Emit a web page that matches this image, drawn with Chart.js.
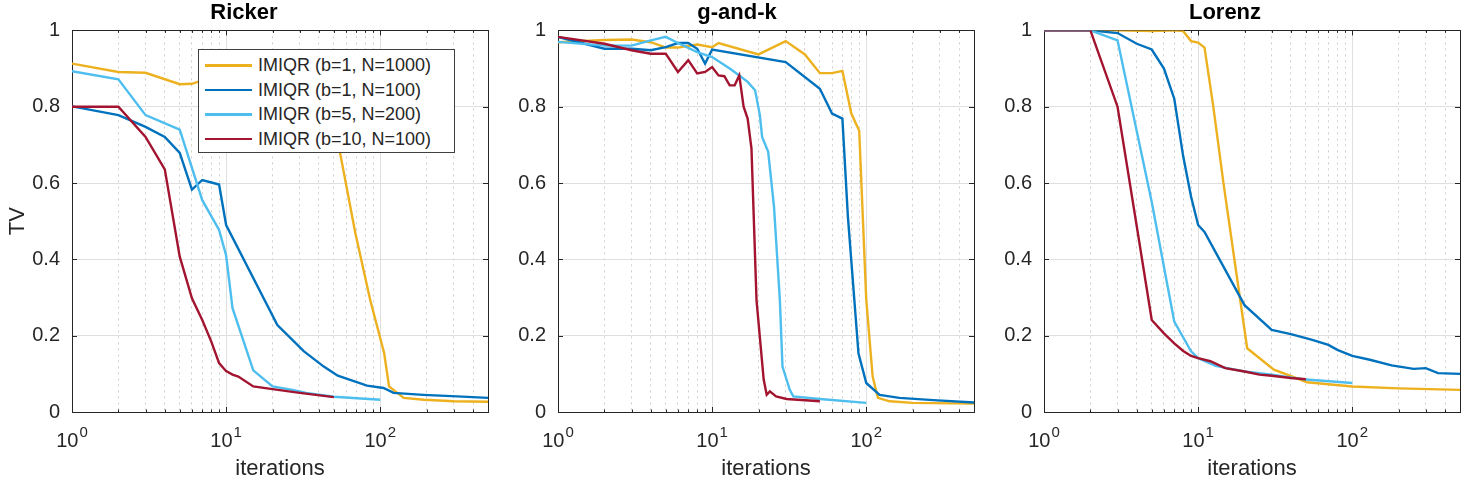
<!DOCTYPE html>
<html>
<head>
<meta charset="utf-8">
<script src="https://cdn.jsdelivr.net/npm/chart.js@4.4.1/dist/chart.umd.min.js"></script>
<style>
body{margin:0;background:#fff;width:1466px;height:484px;overflow:hidden;font-family:"Liberation Sans",Arial,sans-serif}
.panel{position:absolute;top:0;height:484px}
#legend{position:absolute;left:198px;top:49px;width:255px;height:102px;border:1px solid #404040;background:#fff}
.row{position:absolute;left:0;height:24px;line-height:24px;font-size:18px;color:#262626;white-space:nowrap}
.row span{position:absolute;left:6px;top:11px;width:47px;height:2.5px}
.row b{font-weight:normal;position:absolute;left:59px;top:0}
</style>
</head>
<body>
<div class="panel" style="left:0;width:490px"><canvas id="c1"></canvas></div>
<div class="panel" style="left:500px;width:476px"><canvas id="c2"></canvas></div>
<div class="panel" style="left:990px;width:472px"><canvas id="c3"></canvas></div>
<div id="legend"></div>
<script>

// подписи и цвета серий
const seriesLabels = ["IMIQR (b=1, N=1000)","IMIQR (b=1, N=100)","IMIQR (b=5, N=200)","IMIQR (b=10, N=100)"]
const seriesColors = ["#EDB120","#0072BD","#4DBEEE","#A2142F"]

const panelTitles = ["Ricker","g-and-k","Lorenz"]

const yTicks = [0,0.2,0.4,0.6,0.8,1]
const xTicks = [1,2,3,4,5,6,7,8,9,10,20,30,40,50,60,70,80,90,100,200,300,400,500]
// подписи декад: 10^0, 10^1, 10^2
const xDecades = [1,10,100]
const xDecadeBase = "10"
const xDecadeExp = ["0","1","2"]

// Ricker
const rickerX1 = [1,2,3,5,6,7,10,40,55,69,86,106,114,142,192,300,500]
const rickerY1 = [0.913,0.891,0.889,0.859,0.86,0.869,0.875,0.875,0.677,0.468,0.294,0.154,0.067,0.037,0.032,0.028,0.027]
const rickerX2 = [1,2,3,4,5,6,7,9,10,21.5,32,43,53,82,105,122,190,315,500]
const rickerY2 = [0.801,0.778,0.747,0.721,0.679,0.583,0.608,0.596,0.49,0.228,0.159,0.119,0.095,0.069,0.063,0.05,0.045,0.041,0.037]
const rickerX3 = [1,2,3,5,7,9,10,11,15,20,27,33,50,100]
const rickerY3 = [0.893,0.872,0.778,0.74,0.555,0.477,0.41,0.272,0.109,0.067,0.058,0.05,0.04,0.032]
const rickerX4 = [1,2,3,4,5,6,7,8,9,10,11,12,15,20,30,50]
const rickerY4 = [0.8,0.8,0.721,0.636,0.407,0.298,0.241,0.185,0.128,0.107,0.098,0.093,0.067,0.06,0.05,0.039]

// g-and-k
const gkX1 = [1,2,3,4,5,6,8,10,11,20,30,40,50,60,70,80,90,100,110,119,142,200,500]
const gkY1 = [0.969,0.975,0.976,0.969,0.955,0.955,0.963,0.956,0.967,0.937,0.972,0.937,0.888,0.888,0.894,0.782,0.737,0.294,0.093,0.037,0.028,0.024,0.022]
const gkX2 = [1,2,3,4,5,6,7,8,9,10,30,50,60,70,76,89,100,122,164,272,500]
const gkY2 = [0.983,0.952,0.952,0.948,0.956,0.967,0.967,0.952,0.913,0.95,0.917,0.847,0.782,0.769,0.512,0.154,0.076,0.045,0.037,0.031,0.025]
const gkX3 = [1,2,3,4,5,6,8,10,13,15,17,19,20.4,21.1,23.1,25.2,27.5,28.6,31.9,33.6,50,100]
const gkY3 = [0.97,0.96,0.96,0.974,0.983,0.967,0.943,0.93,0.9,0.882,0.865,0.843,0.778,0.721,0.682,0.538,0.294,0.119,0.058,0.041,0.034,0.024]
const gkX4 = [1,2,3,4,5,6,7,8,9,10,11,12,13,14,15,16,17,18,19.4,21.6,22.6,23.7,26,30.4,50]
const gkY4 = [0.983,0.965,0.948,0.939,0.939,0.891,0.922,0.887,0.891,0.904,0.882,0.88,0.856,0.856,0.882,0.8,0.769,0.69,0.294,0.085,0.045,0.054,0.041,0.034,0.028]

// Lorenz
const lorenzX1 = [1,2,3,5,7,8,9,10,11,12.5,14.6,20.8,31,51,100,200,500]
const lorenzY1 = [1,1,1,0.998,1,0.998,0.972,0.968,0.955,0.805,0.6,0.167,0.111,0.078,0.067,0.062,0.058]
const lorenzX2 = [1,2,3,4,5,6,7,8,9,10,11,20,30,40,55,70,80,100,130,180,250,300,360,500]
const lorenzY2 = [1,1,0.993,0.965,0.95,0.9,0.821,0.67,0.564,0.49,0.472,0.28,0.215,0.204,0.189,0.176,0.163,0.147,0.137,0.122,0.113,0.115,0.102,0.1]
const lorenzX3 = [1,2,3,5,7,9,10,13,20,30,50,100]
const lorenzY3 = [1,1,0.974,0.55,0.237,0.159,0.141,0.121,0.106,0.098,0.085,0.076]
const lorenzX4 = [1,2,3,4,5,6,7,8,9,10,12,15,20,25,30,40,50]
const lorenzY4 = [1,1,0.8,0.486,0.241,0.206,0.18,0.16,0.147,0.141,0.133,0.115,0.106,0.098,0.095,0.089,0.086]

const panelData = [
[[rickerX1,rickerY1],[rickerX2,rickerY2],[rickerX3,rickerY3],[rickerX4,rickerY4]],
[[gkX1,gkY1],[gkX2,gkY2],[gkX3,gkY3],[gkX4,gkY4]],
[[lorenzX1,lorenzY1],[lorenzX2,lorenzY2],[lorenzX3,lorenzY3],[lorenzX4,lorenzY4]]
]

const axisColor = "#262626"
const fontName = "'Liberation Sans', Arial, sans-serif"

function isDecade(v){
return Math.abs(Math.log10(v) - Math.round(Math.log10(v))) < 1e-9
}

// рамка, внутренние засечки и подписи 10^n как в matlab (рамка под линиями)
const boxPlugin = {
id:"box",
beforeDatasetsDraw(chart){
const ctx = chart.ctx
const a = chart.chartArea
const xs = chart.scales.x
const ys = chart.scales.y
ctx.save()
ctx.strokeStyle = axisColor
ctx.lineWidth = 1
ctx.beginPath()
xs.ticks.forEach(t=>{
const px = Math.round(xs.getPixelForValue(t.value)) + 0.5
const len = isDecade(t.value) ? 5 : 2.5
ctx.moveTo(px,a.bottom); ctx.lineTo(px,a.bottom-len)
ctx.moveTo(px,a.top); ctx.lineTo(px,a.top+len)
})
ys.ticks.forEach(t=>{
const py = Math.round(ys.getPixelForValue(t.value)) + 0.5
ctx.moveTo(a.left,py); ctx.lineTo(a.left+5,py)
ctx.moveTo(a.right,py); ctx.lineTo(a.right-5,py)
})
ctx.stroke()
ctx.strokeRect(Math.round(a.left)+0.5, Math.round(a.top)+0.5, Math.round(a.right-a.left), Math.round(a.bottom-a.top))

ctx.fillStyle = axisColor
ctx.textBaseline = "alphabetic"
ctx.textAlign = "left"
xDecades.forEach((v,i)=>{
const px = xs.getPixelForValue(v)
ctx.font = "20px " + fontName
const wb = ctx.measureText(xDecadeBase).width
ctx.font = "15px " + fontName
const we = ctx.measureText(xDecadeExp[i]).width
const x0 = px - (wb + 1 + we)/2
ctx.font = "20px " + fontName
ctx.fillText(xDecadeBase, x0, a.bottom + 35)
ctx.font = "15px " + fontName
ctx.fillText(xDecadeExp[i], x0 + wb + 1, a.bottom + 25)
})
ctx.restore()
}
}

function buildPanel(id, idx, yWidth){

const datasets = panelData[idx].map((s,i)=>({
label:seriesLabels[i],
data:s[0].map((x,j)=>({x:x, y:s[1][j]})),
borderColor:seriesColors[i],
backgroundColor:seriesColors[i],
borderWidth:2.4,
pointRadius:0,
tension:0,
fill:false,
order:4-i
}))

new Chart(document.getElementById(id),{
type:"line",
data:{datasets:datasets},
plugins:[boxPlugin],
options:{
responsive:true,
maintainAspectRatio:false,
animation:false,
layout:{padding:{left:0,right:2,top:0,bottom:0}},
plugins:{
legend:{display:false},
tooltip:{enabled:false},
title:{
display:true,
text:panelTitles[idx],
color:"#000",
font:{family:fontName,size:22,weight:"bold"},
padding:{top:0,bottom:4}
}
},
scales:{
x:{
type:"logarithmic",
min:1,
max:500,
afterBuildTicks:scale=>{
scale.ticks = xTicks.map(v=>({value:v}))
},
afterFit:scale=>{ scale.height = 72 },
ticks:{display:false},
grid:{
drawTicks:false,
color:ctx=>{
if(!ctx.tick) return "#dfdfdf"
return isDecade(ctx.tick.value) ? "#dfdfdf" : "rgba(26,26,26,0.22)"
},
lineWidth:1
},
border:{
display:false,
dash:ctx=>{
if(!ctx.tick) return []
return isDecade(ctx.tick.value) ? [] : [2,4]
}
},
title:{
display:true,
text:"iterations",
color:axisColor,
font:{family:fontName,size:22},
padding:{top:0,bottom:2}
}
},
y:{
min:0,
max:1,
afterBuildTicks:scale=>{
scale.ticks = yTicks.map(v=>({value:v}))
},
afterFit:scale=>{ scale.width = yWidth },
ticks:{
padding:12,
color:axisColor,
font:{family:fontName,size:20},
callback:v=>String(Math.round(v*10)/10)
},
grid:{drawTicks:false,color:"#dfdfdf",lineWidth:1},
border:{display:false},
title:{
display:idx === 0,
text:"TV",
color:axisColor,
font:{family:fontName,size:22},
padding:{top:5,bottom:0}
}
}
}
}
})

}

buildPanel("c1",0,72)
buildPanel("c2",1,58)
buildPanel("c3",2,54)

// легенда поверх первого графика
const legend = document.getElementById("legend")
seriesLabels.forEach((name,i)=>{
const row = document.createElement("div")
row.className = "row"
row.style.top = (3 + i*24.5) + "px"
row.innerHTML = '<span style="background:'+seriesColors[i]+'"></span><b>'+name+'</b>'
legend.appendChild(row)
})

</script>
</body>
</html>
